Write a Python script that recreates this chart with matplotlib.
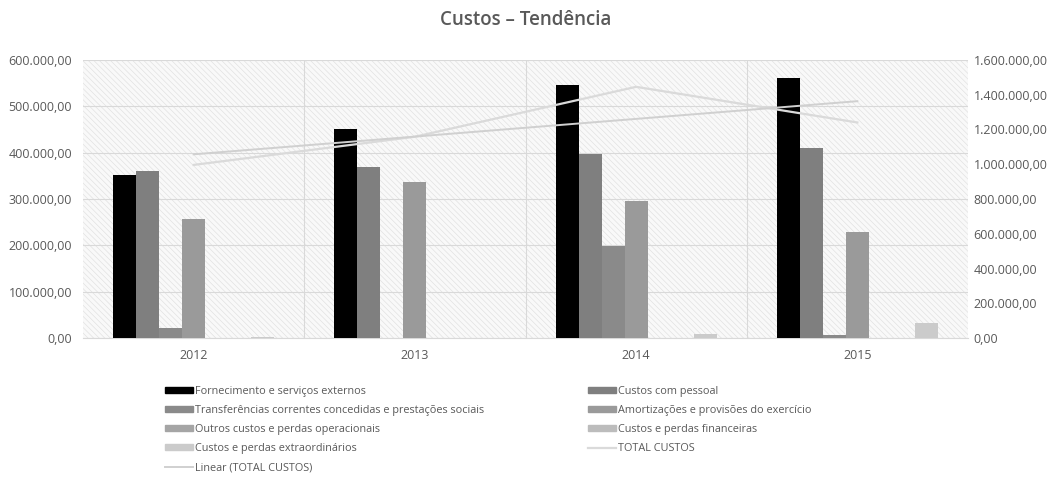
import numpy as np
import matplotlib
matplotlib.use("Agg")
import matplotlib.pyplot as plt
from matplotlib.patches import Patch
from matplotlib.lines import Line2D
from matplotlib.ticker import FuncFormatter, MultipleLocator

plt.rcParams['font.family'] = ['Open Sans', 'DejaVu Sans']
plt.rcParams['hatch.linewidth'] = 0.5

anos = ['2012', '2013', '2014', '2015']
series = ['Fornecimento e serviços externos',
          'Custos com pessoal',
          'Transferências correntes concedidas e prestações sociais',
          'Amortizações e provisões do exercício',
          'Outros custos e perdas operacionais',
          'Custos e perdas financeiras',
          'Custos e perdas extraordinários']
fornecimento = [352000, 452000, 546000, 561000]
pessoal = [360000, 368000, 396000, 411000]
transferencias = [22000, 0, 199000, 6000]
amortizacoes = [257000, 336000, 295000, 229000]
outros = [1000, 1000, 0, 0]
financeiras = [1000, 1000, 1000, 1000]
extraordinarios = [3000, 0, 8000, 32000]
cores = ['#000000', '#7f7f7f', '#8a8a8a', '#9a9a9a', '#a5a5a5', '#bcbcbc', '#cbcbcb']

valores = [fornecimento, pessoal, transferencias, amortizacoes, outros, financeiras, extraordinarios]
total = np.sum(np.array(valores), axis=0)
x = np.arange(len(anos))
coef = np.polyfit(x, total, 1)
tendencia = np.polyval(coef, x)


def fmt(v, pos):
    s = '{:,.2f}'.format(v)
    return s.replace(',', 'X').replace('.', ',').replace('X', '.')


fig = plt.figure(figsize=(10.51, 4.83), dpi=100)
ax = fig.add_axes([0.079, 0.300, 0.842, 0.576])
ax.patch.set_facecolor('#f9f9f9')
ax.patch.set_edgecolor('#e2e2e2')
ax.patch.set_hatch('\\\\\\\\\\\\')
ax.patch.set_linewidth(0)

w = 0.104
for i in range(7):
    ax.bar(x + (i - 3) * w, valores[i], width=w, color=cores[i], zorder=3)

ax.set_xlim(-0.5, 3.5)
ax.set_ylim(0, 600000)
ax.yaxis.set_major_locator(MultipleLocator(100000))
ax.yaxis.set_major_formatter(FuncFormatter(fmt))
ax.set_xticks(x)
ax.set_xticklabels(anos)
ax.grid(axis='y', color='#d9d9d9', linewidth=0.8, zorder=1)
for g in [0.5, 1.5, 2.5]:
    ax.axvline(g, color='#d9d9d9', linewidth=0.8, zorder=1)
for s in ['top', 'right', 'left']:
    ax.spines[s].set_visible(False)
ax.spines['bottom'].set_color('#d9d9d9')
ax.tick_params(length=0, labelsize=9, colors='#595959', pad=8)

ax2 = ax.twinx()
ax2.plot(x, total, color='#dadada', linewidth=1.6, zorder=4)
ax2.plot(x, tendencia, color='#d0d0d0', linewidth=1.4, zorder=4)
ax2.set_ylim(0, 1600000)
ax2.yaxis.set_major_locator(MultipleLocator(200000))
ax2.yaxis.set_major_formatter(FuncFormatter(fmt))
for s in ['top', 'right', 'left', 'bottom']:
    ax2.spines[s].set_visible(False)
ax2.tick_params(length=0, labelsize=9, colors='#595959', pad=4)

fig.text(0.5, 0.958, 'Custos – Tendência', ha='center', va='center',
         fontsize=13.5, fontweight='semibold', color='#595959')

esq = [Patch(color=cores[0]), Patch(color=cores[2]), Patch(color=cores[4]),
       Patch(color=cores[6]), Line2D([], [], color='#d0d0d0', linewidth=1.4)]
esq_lab = [series[0], series[2], series[4], series[6], 'Linear (TOTAL CUSTOS)']
dir_ = [Patch(color=cores[1]), Patch(color=cores[3]), Patch(color=cores[5]),
        Line2D([], [], color='#dadada', linewidth=1.6)]
dir_lab = [series[1], series[3], series[5], 'TOTAL CUSTOS']

kw = dict(frameon=False, fontsize=7.8, handlelength=2.6, handleheight=0.45,
          handletextpad=0.15, labelspacing=0.75, labelcolor='#595959')
fig.legend(esq, esq_lab, loc='upper left', bbox_to_anchor=(0.148, 0.222), **kw)
fig.legend(dir_, dir_lab, loc='upper left', bbox_to_anchor=(0.550, 0.222), **kw)

fig.savefig('out.png', dpi=100)
